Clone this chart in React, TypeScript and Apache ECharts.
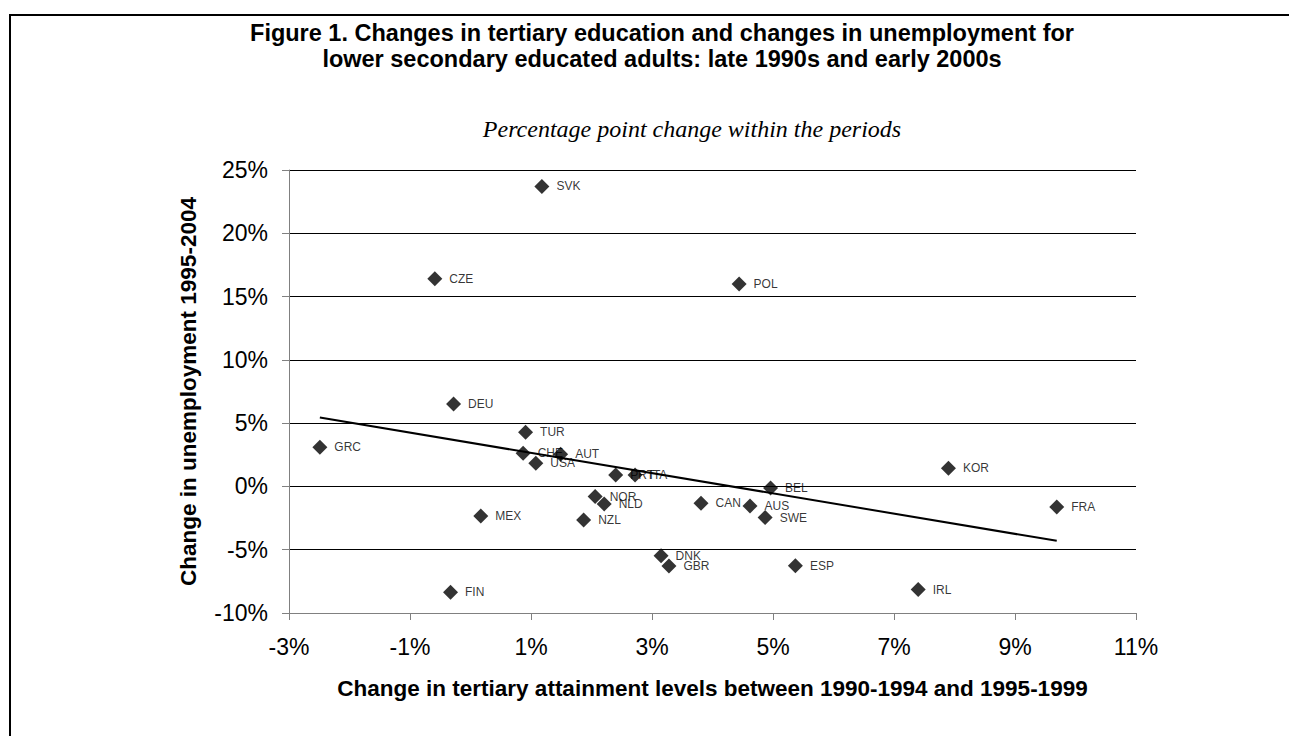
import React, { useEffect, useRef } from "react";
import * as echarts from "echarts";

const countries = ["SVK","CZE","POL","DEU","TUR","GRC","CHE","AUT","USA","PRT","ITA","KOR","BEL","NOR","NLD","CAN","AUS","FRA","MEX","NZL","SWE","DNK","GBR","ESP","IRL","FIN"];
const tertiaryChange = [1.18,-0.59,4.44,-0.28,0.91,-2.49,0.87,1.49,1.08,2.40,2.72,7.90,4.96,2.06,2.21,3.81,4.62,9.69,0.17,1.87,4.87,3.15,3.28,5.37,7.40,-0.33];
const unemploymentChange = [23.7,16.4,16.0,6.52,4.28,3.1,2.62,2.54,1.83,0.91,0.91,1.44,-0.12,-0.8,-1.38,-1.33,-1.54,-1.62,-2.33,-2.65,-2.46,-5.47,-6.28,-6.26,-8.15,-8.36];
const trendX = [-2.49, 9.69];
const trendY = [5.44, -4.3];

const xTicks = { min: -3, max: 11, step: 2 };
const yTicks = { min: -10, max: 25, step: 5 };

const titleText = "Figure 1. Changes in tertiary education and changes in unemployment for\nlower secondary educated adults: late 1990s and early 2000s";
const subtitleText = "Percentage point change within the periods";
const xName = "Change in tertiary attainment levels between 1990-1994 and 1995-1999";
const yName = "Change in unemployment 1995-2004";

const SANS = "Arial, 'Liberation Sans', sans-serif";

export default function App() {
  const ref = useRef<HTMLDivElement>(null);
  useEffect(() => {
    document.body.style.margin = "0";
    const chart = echarts.init(ref.current!, undefined, { renderer: "svg" });
    const points = countries.map((c, i) => ({ name: c, value: [tertiaryChange[i], unemploymentChange[i]] }));
    chart.setOption({
      animation: false,
      backgroundColor: "#fff",
      title: [
        {
          text: titleText,
          left: 657,
          top: 15,
          textAlign: "center",
          textStyle: { fontFamily: SANS, fontWeight: "bold", fontSize: 23.5, lineHeight: 26, color: "#000" },
        },
        {
          text: subtitleText,
          left: 687,
          top: 112,
          textAlign: "center",
          textStyle: { fontFamily: "'Liberation Serif', 'Times New Roman', serif", fontStyle: "italic", fontWeight: "normal", fontSize: 24, color: "#000" },
        },
      ],
      graphic: [
        {
          type: "rect",
          shape: { x: 10, y: 15, width: 1400, height: 1000 },
          style: { fill: "none", stroke: "#000", lineWidth: 2 },
          silent: true,
        },
      ],
      grid: { left: 289, right: 153, top: 170, bottom: 123, containLabel: false },
      xAxis: {
        type: "value",
        min: xTicks.min,
        max: xTicks.max,
        interval: xTicks.step,
        name: xName,
        nameLocation: "middle",
        nameGap: 64,
        nameTextStyle: { fontFamily: SANS, fontWeight: "bold", fontSize: 22.5, color: "#000" },
        axisLine: { show: true, onZero: false, lineStyle: { color: "#808080", width: 1 } },
        axisTick: { show: true, length: 7, inside: false, lineStyle: { color: "#808080" } },
        axisLabel: { fontFamily: SANS, fontSize: 23, color: "#000", margin: 22, formatter: (v: number) => v + "%" },
        splitLine: { show: false },
      },
      yAxis: {
        type: "value",
        min: yTicks.min,
        max: yTicks.max,
        interval: yTicks.step,
        name: yName,
        nameLocation: "middle",
        nameGap: 89,
        nameTextStyle: { fontFamily: SANS, fontWeight: "bold", fontSize: 22.5, color: "#000" },
        axisLine: { show: true, onZero: false, lineStyle: { color: "#808080", width: 1 } },
        axisTick: { show: true, length: 7, inside: false, lineStyle: { color: "#808080" } },
        axisLabel: { fontFamily: SANS, fontSize: 23, color: "#000", margin: 21, formatter: (v: number) => v + "%" },
        splitLine: { show: true, lineStyle: { color: "#000", width: 1 } },
      },
      series: [
        {
          type: "line",
          data: trendX.map((x, i) => [x, trendY[i]]),
          symbol: "none",
          lineStyle: { color: "#000", width: 2 },
          z: 3,
          silent: true,
        },
        {
          type: "scatter",
          data: points,
          symbol: "diamond",
          symbolSize: 15,
          itemStyle: { color: "#000" },
          z: 4,
          label: {
            show: true,
            position: "right",
            distance: 7,
            formatter: "{b}",
            fontFamily: SANS,
            fontSize: 12,
            color: "#000",
          },
        },
      ],
    });
    return () => chart.dispose();
  }, []);
  return <div ref={ref} style={{ position: "fixed", left: 0, top: 0, width: 1289, height: 736 }} />;
}
